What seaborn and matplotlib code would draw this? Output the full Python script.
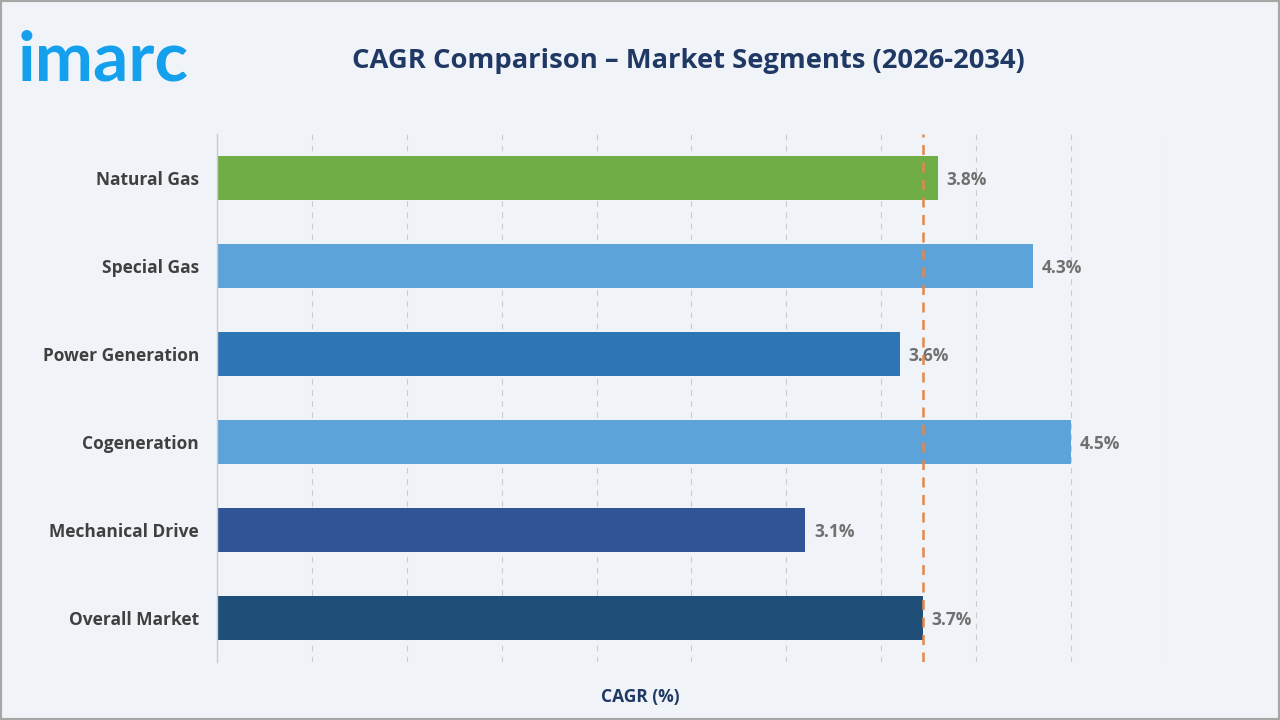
import seaborn as sns
import matplotlib.pyplot as plt
import pandas as pd

# data
segments = ["Natural Gas", "Special Gas", "Power Generation",
            "Cogeneration", "Mechanical Drive", "Overall Market"]
cagr = [3.8, 4.3, 3.6, 4.5, 3.1, 3.72]
bar_colors = ["#70ad47", "#5ba3d8", "#2e75b6", "#5ba3d8", "#2f5597", "#1f4e79"]

df = pd.DataFrame({"segment": segments, "cagr": cagr})

sns.set_theme(style="white")
plt.rcParams["font.family"] = ["Open Sans", "DejaVu Sans"]

bg = "#f0f3f8"
fig = plt.figure(figsize=(12.8, 7.2), dpi=100, facecolor=bg)
ax = fig.add_axes([0.1695, 0.0806, 0.7414, 0.7334])
ax.set_facecolor(bg)

sns.barplot(data=df, x="cagr", y="segment", hue="segment", palette=bar_colors,
            orient="h", width=0.5, legend=False, ax=ax, saturation=1,
            linewidth=0, edgecolor="none")

ax.set_xlim(0, 5)
ax.set_ylim(5.5, -0.5)
ax.set_xticks([i * 0.5 for i in range(11)])
ax.set_xticklabels([])
ax.tick_params(axis="x", length=0)
ax.tick_params(axis="y", length=0, pad=13)
ax.grid(axis="x", linestyle=(0, (5, 5)), color="#c8ccd2", linewidth=0.8)
ax.set_axisbelow(True)
for s in ["top", "right", "bottom"]:
    ax.spines[s].set_visible(False)
ax.spines["left"].set_color("#c8ccd2")
ax.spines["left"].set_linewidth(1)

for lbl in ax.get_yticklabels():
    lbl.set_fontweight("bold")
    lbl.set_color("#404040")
    lbl.set_fontsize(12.5)

ax.set_xlabel("")
ax.set_ylabel("")

# value labels
for i, v in enumerate(cagr):
    ax.text(v + 0.045, i, f"{v:.1f}%", va="center_baseline", ha="left",
            fontsize=12.5, fontweight="bold", color="#707070")

# reference line at overall market
ax.axvline(cagr[-1], color="#e4874a", linestyle=(0, (4, 3)), linewidth=1.8, zorder=5)

fig.text(0.5, 0.032, "CAGR (%)", ha="center", va="center",
         fontsize=12.5, fontweight="bold", color="#1f3864")

fig.text(0.5375, 0.915, "CAGR Comparison \u2013 Market Segments (2026-2034)",
         ha="center", va="center", fontsize=19.7, fontweight="bold", color="#1f3864")

fig.text(0.014, 0.915, "imarc", ha="left", va="center", fontsize=50,
         fontweight="bold", color="#14a0ec", family=["Lato", "DejaVu Sans"])

# border
fig.patches.append(plt.Rectangle((0, 0), 1, 1, transform=fig.transFigure,
                                 fill=False, edgecolor="#a6a6a6", linewidth=3))

fig.savefig("out.png", dpi=100, facecolor=bg)
